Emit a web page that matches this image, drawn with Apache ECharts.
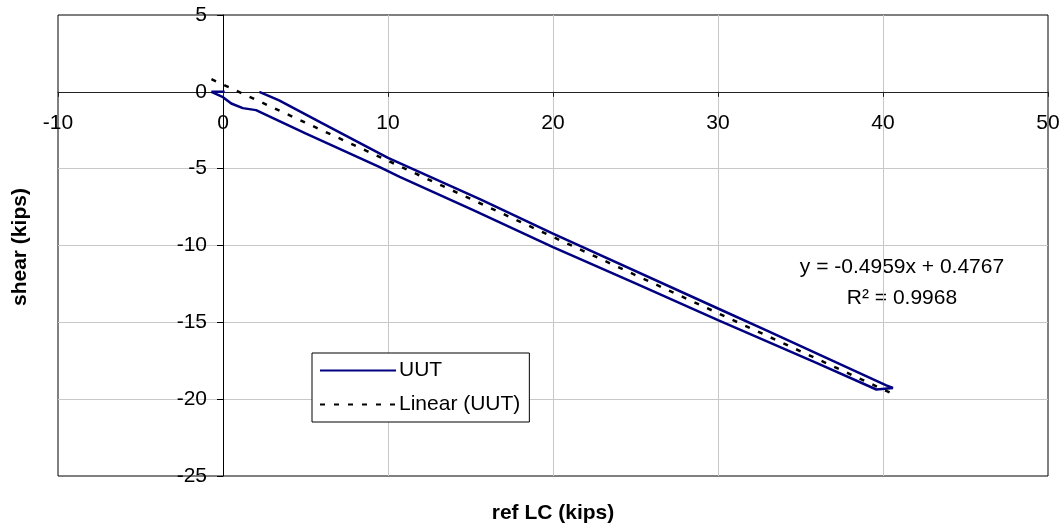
<!DOCTYPE html>
<html>
<head>
<meta charset="utf-8">
<title>shear vs ref LC</title>
<script src="https://cdn.jsdelivr.net/npm/echarts@6/dist/echarts.min.js"></script>
<style>
    html, body { margin: 0; padding: 0; background: #fff; }
    #chart { width: 1063px; height: 529px; }
</style>
</head>
<body>
<div id="chart"></div>
<script>
    // UUT loop (upper branch down, then lower branch back)
    var uutX = [2.2, 3.4, 6.0, 10.0, 15.6, 20.0, 30.0, 33.0, 40.2, 40.6, 39.6, 36.0, 30.0, 25.0, 20.0, 15.2, 10.71, 9.5, 5.0, 2.0, 1.2, 0.5, 0.0, -0.7, 0.1];
    var uutY = [0.0, -0.55, -2.03, -4.3, -7.0, -9.22, -14.1, -15.55, -19.1, -19.27, -19.37, -17.65, -14.85, -12.47, -10.1, -7.72, -5.53, -4.9, -2.7, -1.19, -1.06, -0.76, -0.35, 0.0, 0.0];

    // linear trendline ends
    var trendX = [-0.7, 40.6];
    var trendY = [0.82, -19.66];

    var seriesNames = ['UUT', 'Linear (UUT)'];
    var eqText = 'y = -0.4959x + 0.4767';
    var r2Text = 'R\u00b2 = 0.9968';

    var xMin = -10, xMax = 50, xStep = 10;
    var yMin = -25, yMax = 5, yStep = 5;

    function pairs(xs, ys) {
        var out = [];
        for (var i = 0; i < xs.length; i++) out.push([xs[i], ys[i]]);
        return out;
    }

    var font = 'Liberation Sans, Arial, sans-serif';
    var fs = 21;

    var option = {
        animation: false,
        backgroundColor: '#fff',
        grid: {
            left: 58, right: 15, top: 15, bottom: 53,
            show: true,
            borderColor: '#000',
            borderWidth: 1,
            backgroundColor: '#fff'
        },
        legend: {
            orient: 'vertical',
            left: 312,
            top: 353,
            padding: [7, 9, 7, 7],
            itemWidth: 76,
            itemHeight: 20,
            itemGap: 13,
            backgroundColor: '#fff',
            borderColor: '#000',
            borderWidth: 1,
            borderRadius: 0,
            itemStyle: { opacity: 0 },
            textStyle: { fontFamily: font, fontSize: fs, color: '#000', padding: [0, 0, 0, -2] },
            data: seriesNames
        },
        xAxis: {
            type: 'value',
            min: xMin, max: xMax, interval: xStep,
            axisLine: { onZero: false, lineStyle: { color: '#222', width: 1 } },
            axisTick: { show: true, length: 5, lineStyle: { color: '#222' } },
            axisLabel: { fontFamily: font, fontSize: fs, color: '#000', margin: 21 },
            splitLine: { show: true, showMinLine: false, showMaxLine: false, lineStyle: { color: '#c8c8c8', width: 1 } }
        },
        yAxis: {
            type: 'value',
            min: yMin, max: yMax, interval: yStep,
            axisLine: { onZero: false, lineStyle: { color: '#000', width: 1 } },
            axisTick: { show: true, length: 6, lineStyle: { color: '#000' } },
            axisLabel: { fontFamily: font, fontSize: fs, color: '#000', margin: 16 },
            splitLine: { show: true, showMinLine: false, showMaxLine: false, lineStyle: { color: '#c8c8c8', width: 1 } }
        },
        graphic: [
            {
                type: 'text', x: 10, y: 306,
                rotation: Math.PI / 2,
                style: { text: 'shear (kips)', fontFamily: font, fontSize: fs, fontWeight: 'bold', fill: '#000' }
            },
            {
                type: 'text', x: 553, y: 513,
                style: { text: 'ref LC (kips)', fontFamily: font, fontSize: fs, fontWeight: 'bold', fill: '#000', textAlign: 'center', textVerticalAlign: 'middle' }
            },
            {
                type: 'text', x: 902, y: 267,
                style: { text: eqText, fontFamily: font, fontSize: fs, fill: '#000', textAlign: 'center', textVerticalAlign: 'middle' }
            },
            {
                type: 'text', x: 902, y: 298,
                style: { text: r2Text, fontFamily: font, fontSize: fs, fill: '#000', textAlign: 'center', textVerticalAlign: 'middle' }
            }
        ],
        series: [
            {
                name: seriesNames[0],
                type: 'line',
                symbol: 'none',
                lineStyle: { color: '#000080', width: 2.5 },
                itemStyle: { color: '#000080' },
                data: pairs(uutX, uutY)
            },
            {
                name: seriesNames[1],
                type: 'line',
                symbol: 'none',
                lineStyle: { color: '#000', width: 2.5, type: [5, 9] },
                itemStyle: { color: '#000' },
                data: pairs(trendX, trendY)
            }
        ]
    };

    var chart = echarts.init(document.getElementById('chart'));
    chart.setOption(option);

    // move both axes (line, ticks, labels) to cross at the origin, like the Excel chart
    var pOrigin = chart.convertToPixel({ gridIndex: 0 }, [0, 0]);
    var pMin = chart.convertToPixel({ gridIndex: 0 }, [xMin, yMin]);
    chart.setOption({
        xAxis: { offset: -(pMin[1] - pOrigin[1]) },
        yAxis: { offset: -(pOrigin[0] - pMin[0]) }
    });
</script>
</body>
</html>
